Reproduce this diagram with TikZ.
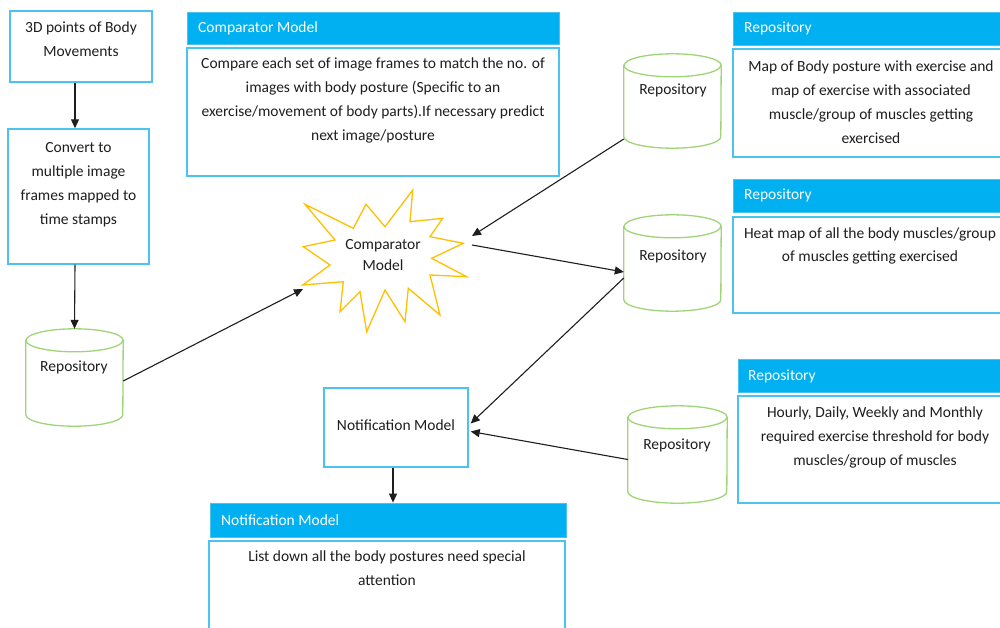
\documentclass[tikz,border=0pt]{standalone}
\usepackage{fontspec}
\setmainfont{Carlito}
\usetikzlibrary{arrows.meta,calc}
\definecolor{hdrblue}{HTML}{00B0F0}
\definecolor{boxblue}{HTML}{4CC2F0}
\definecolor{cylgreen}{HTML}{9FD477}
\definecolor{stargold}{HTML}{FFC000}
\definecolor{ink}{HTML}{1E1E1E}
\tikzset{
  txt/.style={font=\fontsize{15.5}{24}\selectfont, inner sep=0pt, align=center, text=ink},
  hdrtxt/.style={font=\fontsize{15.5}{24}\selectfont, inner sep=0pt, text=white, anchor=west, text height=10pt, text depth=0pt},
  onetxt/.style={txt, text height=10pt, text depth=0pt},
  bluebox/.style={draw=boxblue, line width=1.4pt, fill=white, inner sep=0pt},
  hdrbox/.style={fill=hdrblue, draw=boxblue, line width=0.8pt, inner sep=0pt},
  repo/.style={rectangle, inner sep=0pt},
  cylline/.style={draw=cylgreen, line width=1.3pt},
  conn/.style={draw=ink, line width=1.1pt, -{Triangle[length=9pt,width=8pt]}},
}
% draw a cylinder outline around a named rectangle node: #1 name, #2 half width
\newcommand\repocyl[2]{%
  \draw[cylline, fill=white] ($(#1.north west)+(0,11.5)$) -- ($(#1.south west)+(0,-11.5)$)
    arc[start angle=180,end angle=360,x radius=#2pt,y radius=11.5pt]
    -- ($(#1.north east)+(0,11.5)$)
    arc[start angle=0,end angle=180,x radius=#2pt,y radius=11.5pt] -- cycle;
  \draw[cylline] ($(#1.north west)+(0,11.5)$)
    arc[start angle=180,end angle=360,x radius=#2pt,y radius=11.5pt];
}
\begin{document}
\begin{tikzpicture}[x=1pt,y=-1pt]
\useasboundingbox[fill=white] (0,0) rectangle (1000,628);

% left column
\node[bluebox, minimum width=142pt, minimum height=71pt] (pts) at (81,46.5) {};
\node[txt, anchor=north] (ptsT) at (81,16) {\strut 3D points of Body\\Movements};
\node[bluebox, minimum width=141pt, minimum height=135pt] (conv) at (78.5,196.5) {};
\node[txt, anchor=north] (convT) at (78.5,136) {\strut Convert to\\multiple image\\frames mapped to\\time stamps};
\node[repo, minimum width=97pt, minimum height=97pt] (r0) at (74.5,377.5) {};
\repocyl{r0}{48.5}
\node[onetxt] (r0T) at (74,366) {Repository};

% comparator model description
\node[hdrbox, minimum width=372pt, minimum height=32pt] (cmh) at (373,28) {};
\node[hdrtxt] (cmhT) at (198,28) {Comparator Model};
\node[bluebox, minimum width=372pt, minimum height=128pt] (cmb) at (373,112) {};
\node[txt, anchor=north] (cmbT) at (373,52) {\strut Compare each set of image frames to match the no. of\\images with body posture (Specific to an\\exercise/movement of body parts).If necessary predict\\next image/posture};

% starburst
\draw[draw=stargold, line width=1.3pt, fill=white, line join=miter]
  (305,204.3) -- (353.3,228.3) -- (366,204.3) -- (385,226.7) -- (412.7,190) -- (410,221.7)
  -- (442.7,218.3) -- (430,236.7) -- (463.3,243.3) -- (431.7,258.3) -- (466.7,276.7)
  -- (430,275) -- (440,315) -- (408.3,288.3) -- (405,321.7) -- (385,290) -- (366.7,331.7)
  -- (360,291.7) -- (340,311.7) -- (343.3,281.7) -- (302.7,285) -- (330,265)
  -- (303.3,246.7) -- (335,240) -- cycle;
\node[txt, font=\fontsize{15.5}{21}\selectfont] (star) at (383,255) {Comparator\\Model};
\coordinate (starL) at (303,289);
\coordinate (starR1) at (472,236);
\coordinate (starR2) at (472,245);

% right repositories
\node[repo, minimum width=97pt, minimum height=94pt] (r1) at (672.5,101) {};
\repocyl{r1}{48.5}
\node[onetxt] (r1T) at (673,90) {Repository};
\node[repo, minimum width=97pt, minimum height=96pt] (r2) at (672.5,263) {};
\repocyl{r2}{48.5}
\node[onetxt] (r2T) at (673,255) {Repository};
\node[repo, minimum width=99pt, minimum height=97pt] (r3) at (677.5,454.5) {};
\repocyl{r3}{49.5}
\node[onetxt] (r3T) at (677,444) {Repository};

\node[hdrbox, minimum width=277pt, minimum height=33pt] (h1) at (871.5,28.5) {};
\node[hdrtxt] (h1T) at (744,28) {Repository};
\node[bluebox, minimum width=277pt, minimum height=108pt] (b1) at (871.5,103) {};
\node[txt, anchor=north] (b1T) at (871,55) {\strut Map of Body posture with exercise and\\map of exercise with associated\\muscle/group of muscles getting\\exercised};

\node[hdrbox, minimum width=277pt, minimum height=33pt] (h2) at (871.5,195.5) {};
\node[hdrtxt] (h2T) at (744,195) {Repository};
\node[bluebox, minimum width=277pt, minimum height=96pt] (b2) at (871.5,265) {};
\node[txt, anchor=north] (b2T) at (870,221) {\strut Heat map of all the body muscles/group\\of muscles getting exercised};

\node[hdrbox, minimum width=272pt, minimum height=33pt] (h3) at (874,375.5) {};
\node[hdrtxt] (h3T) at (748,375) {Repository};
\node[bluebox, minimum width=272pt, minimum height=107pt] (b3) at (874,449.5) {};
\node[txt, anchor=north] (b3T) at (875,400) {\strut Hourly, Daily, Weekly and Monthly\\required exercise threshold for body\\muscles/group of muscles};

% notification
\node[bluebox, minimum width=144pt, minimum height=79pt] (nm) at (396,427.5) {};
\node[onetxt] (nmT) at (396,425) {Notification Model};
\node[hdrbox, minimum width=356pt, minimum height=34pt] (nh) at (388,520) {};
\node[hdrtxt] (nhT) at (221,520) {Notification Model};
\node[bluebox, minimum width=356pt, minimum height=100pt] (nb) at (387,591) {};
\node[txt, anchor=north] (nbT) at (387,544) {\strut List down all the body postures need special\\attention};

% connectors
\draw[conn] ($(pts.south)+(-6,0)$) -- ($(conv.north)+(-3.5,0)$);
\draw[conn] ($(conv.south)+(-3.5,0)$) -- (r0.north);
\draw[conn] ($(r0.east)+(0,3.5)$) -- (starL);
\draw[conn] ($(r1.west)+(0,38)$) -- (starR1);
\draw[conn] (starR2) -- ($(r2.west)+(0,9)$);
\draw[conn] ($(r2.west)+(0,15)$) -- ($(nm.east)+(2,-4)$);
\draw[conn] ($(r3.west)+(0,5)$) -- ($(nm.east)+(2,4)$);
\draw[conn] ($(nm.south)+(-3,0)$) -- ($(nh.north)+(5,0)$);
\end{tikzpicture}
\end{document}
